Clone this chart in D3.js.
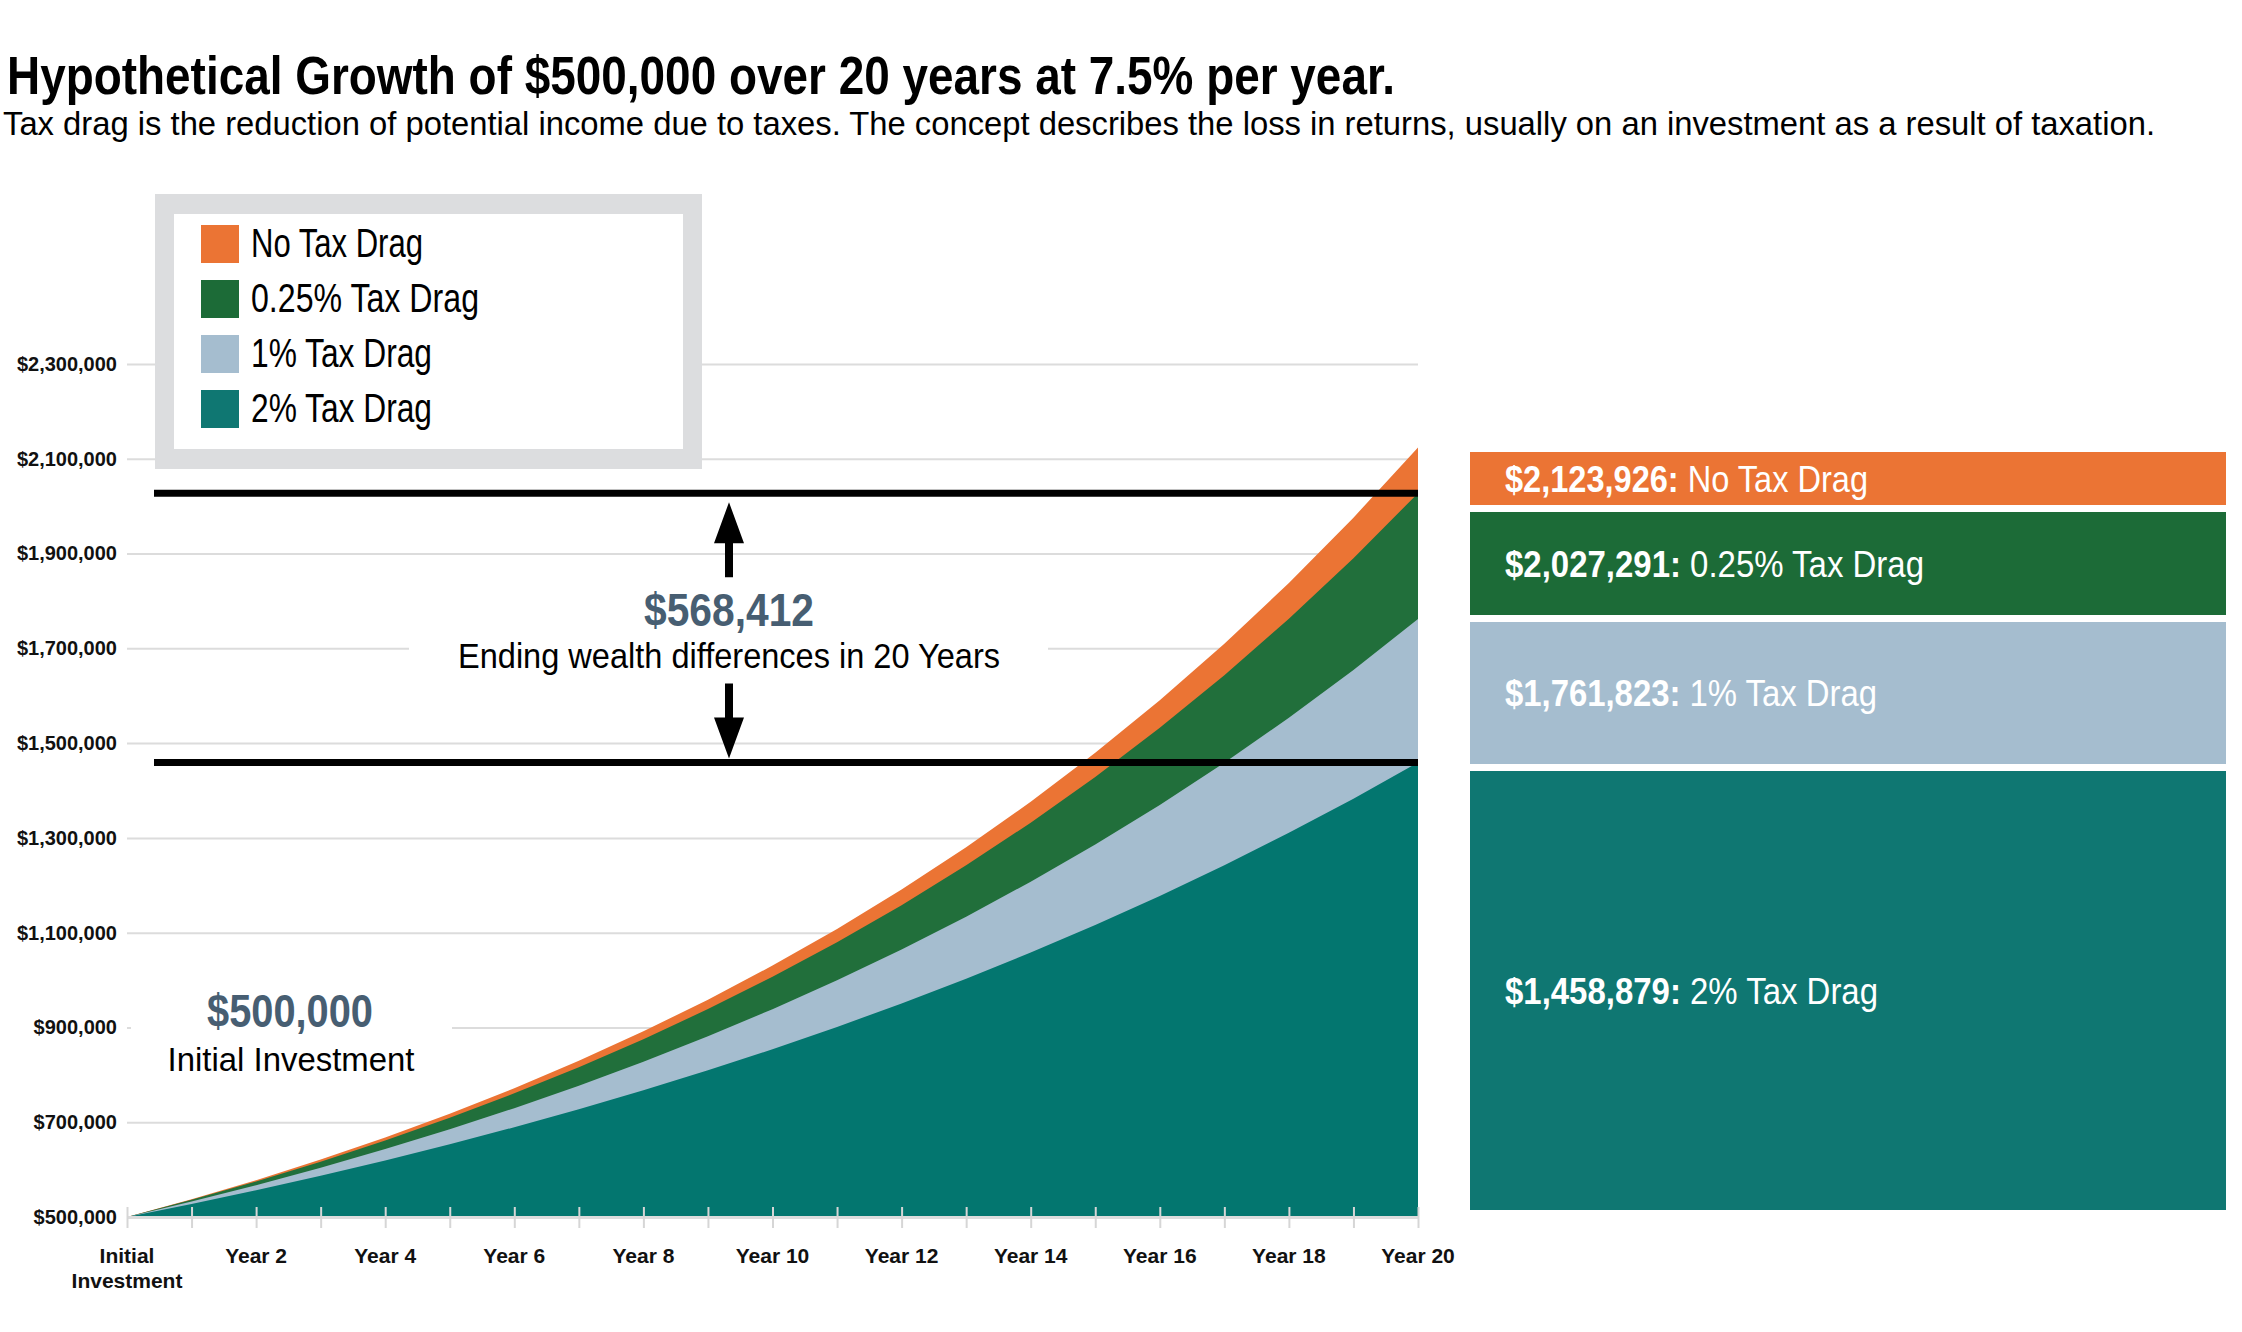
<!DOCTYPE html>
<html>
<head>
<meta charset="utf-8">
<script src="https://cdn.jsdelivr.net/npm/d3@7"></script>
<style>
  body { margin: 0; background: #fff; }
  svg text { font-family: 'Liberation Sans Narrow', 'Arial Narrow', 'Liberation Sans', Arial, sans-serif; }
</style>
</head>
<body>
<div id="chart"></div>
<script>

// ---- data ----
var years = [0, 1, 2, 3, 4, 5, 6, 7, 8, 9, 10, 11, 12, 13, 14, 15, 16, 17, 18, 19, 20];

var noTaxDrag = [500000, 537500, 577813, 621148, 667735, 717815, 771651, 829525, 891739, 958619,
    1030516, 1107804, 1190890, 1280207, 1376222, 1479439, 1590397, 1709676, 1837902, 1975745, 2123926];
var drag025 = [500000, 536250, 575128, 616825, 661545, 709507, 760946, 816115, 875283, 938741,
    1006800, 1079793, 1158077, 1242038, 1332086, 1428662, 1532240, 1643328, 1762469, 1890248, 2027291];
var drag1 = [500000, 532500, 567113, 603975, 643233, 685043, 729571, 776993, 827498, 881285,
    938569, 999576, 1064548, 1133744, 1207437, 1285921, 1369505, 1458523, 1553327, 1654293, 1761823];
var drag2 = [500000, 527500, 556513, 587121, 619412, 653480, 689421, 727340, 767343, 809547,
    854072, 901046, 950604, 1002887, 1058046, 1116238, 1177631, 1242401, 1310733, 1382823, 1458879];

var seriesNames = ['No Tax Drag', '0.25% Tax Drag', '1% Tax Drag', '2% Tax Drag'];
var seriesValues = [noTaxDrag, drag025, drag1, drag2];

var yTicks = [500000, 700000, 900000, 1100000, 1300000, 1500000, 1700000, 1900000, 2100000, 2300000];
var xLabelYears = [0, 2, 4, 6, 8, 10, 12, 14, 16, 18, 20];
var xLabels = ['Initial|Investment', 'Year 2', 'Year 4', 'Year 6', 'Year 8', 'Year 10',
    'Year 12', 'Year 14', 'Year 16', 'Year 18', 'Year 20'];

var initialAmount = 500000;

// ---- styles / layout ----
var areaColors = ['#eb7434', '#216f3b', '#a5bdcf', '#03766f'];
var boxColors = ['#eb7434', '#1c6b37', '#a5bdcf', '#0f7772'];
var slate = '#475e72';

var width = 2242, height = 1332;
var plotLeft = 127, plotRight = 1418, plotBottom = 1217, plotTop = 364;

var svg = d3.select('#chart')
    .append('svg')
        .attr('width', width)
        .attr('height', height);

var x = d3.scaleLinear().domain([0, 20]).range([plotLeft, plotRight]);
var y = d3.scaleLinear().domain([500000, 2300000]).range([plotBottom, plotTop]);

function fit(sel, w) {
    sel.attr('textLength', w).attr('lengthAdjust', 'spacingAndGlyphs');
    return sel;
}

// title
svg.append('text')
    .attr('x', 7).attr('y', 94)
    .attr('font-size', 54).attr('font-weight', 'bold').attr('fill', '#000')
    .text('Hypothetical Growth of $500,000 over 20 years at 7.5% per year.')
    .call(fit, 1388);

svg.append('text')
    .attr('x', 3).attr('y', 135)
    .attr('font-size', 33).attr('fill', '#000')
    .text('Tax drag is the reduction of potential income due to taxes. The concept describes the loss in returns, usually on an investment as a result of taxation.')
    .call(fit, 2152);

// y axis + gridlines
svg.append('g')
    .attr('transform', 'translate(' + plotLeft + ',0)')
    .call(d3.axisLeft(y)
        .tickValues(yTicks)
        .tickSize(-(plotRight - plotLeft))
        .tickPadding(10)
        .tickFormat(function(d) { return '$' + d3.format(',')(d); }))
    .call(function(g) { g.select('.domain').remove(); })
    .call(function(g) {
        g.selectAll('.tick line').attr('stroke', '#dcdcdc').attr('stroke-width', 2);
        g.selectAll('.tick text')
            .style('font-family', "'Liberation Sans', Arial, sans-serif")
            .attr('font-size', 20).attr('font-weight', 'bold').attr('fill', '#111');
    });

// white patches behind annotations (gridline gaps)
svg.append('rect').attr('x', 409).attr('y', 590).attr('width', 639).attr('height', 95).attr('fill', '#fff');
svg.append('rect').attr('x', 131).attr('y', 985).attr('width', 321).attr('height', 95).attr('fill', '#fff');

// areas
var area = d3.area()
    .x(function(d, i) { return x(years[i]); })
    .y0(y(initialAmount))
    .y1(function(d) { return y(d); });

svg.selectAll('path.area')
    .data(seriesValues)
    .enter().append('path')
        .attr('class', 'area')
        .attr('fill', function(d, i) { return areaColors[i]; })
        .attr('d', area);

// x axis
var xAxis = svg.append('g')
    .attr('transform', 'translate(0,' + plotBottom + ')')
    .call(d3.axisBottom(x).tickValues(years).tickSize(11).tickSizeOuter(0).tickFormat(''));
xAxis.select('.domain').attr('stroke', '#dcdcdc').attr('stroke-width', 3);
xAxis.selectAll('.tick line').attr('stroke', '#d6d6d6').attr('stroke-width', 2).attr('y1', -10);

svg.selectAll('text.xlab')
    .data(xLabelYears)
    .enter().append('text')
        .attr('class', 'xlab')
        .attr('x', function(d) { return x(d); })
        .attr('y', 1263)
        .attr('text-anchor', 'middle')
        .attr('font-size', 21).attr('font-weight', 'bold').attr('fill', '#111')
        .each(function(d, i) {
            var parts = xLabels[i].split('|');
            var t = d3.select(this);
            parts.forEach(function(p, j) {
                t.append('tspan').attr('x', x(d)).attr('dy', j === 0 ? 0 : 25).text(p);
            });
        });

// difference lines
var topVal = drag025[drag025.length - 1];
var lowVal = drag2[drag2.length - 1];
[topVal, lowVal].forEach(function(v) {
    svg.append('line')
        .attr('x1', 154).attr('x2', plotRight)
        .attr('y1', y(v)).attr('y2', y(v))
        .attr('stroke', '#000').attr('stroke-width', 7);
});

// arrows
var ax = 729;
var yt = y(topVal), yb = y(lowVal);
svg.append('path')
    .attr('fill', '#000')
    .attr('d', 'M' + ax + ',' + (yt + 9) + ' L' + (ax + 15) + ',' + (yt + 50) + ' L' + (ax + 4) + ',' + (yt + 50) +
        ' L' + (ax + 4) + ',' + (yt + 84) + ' L' + (ax - 4) + ',' + (yt + 84) + ' L' + (ax - 4) + ',' + (yt + 50) +
        ' L' + (ax - 15) + ',' + (yt + 50) + ' Z');
svg.append('path')
    .attr('fill', '#000')
    .attr('d', 'M' + ax + ',' + (yb - 4) + ' L' + (ax + 15) + ',' + (yb - 45) + ' L' + (ax + 4) + ',' + (yb - 45) +
        ' L' + (ax + 4) + ',' + (yb - 79) + ' L' + (ax - 4) + ',' + (yb - 79) + ' L' + (ax - 4) + ',' + (yb - 45) +
        ' L' + (ax - 15) + ',' + (yb - 45) + ' Z');

svg.append('text')
    .attr('x', ax).attr('y', 626).attr('text-anchor', 'middle')
    .attr('font-size', 46).attr('font-weight', 'bold').attr('fill', slate)
    .text(d3.format('$,')(topVal - lowVal))
    .call(fit, 170);
svg.append('text')
    .attr('x', ax).attr('y', 668).attr('text-anchor', 'middle')
    .attr('font-size', 35).attr('fill', '#000')
    .text('Ending wealth differences in 20 Years')
    .call(fit, 542);

svg.append('text')
    .attr('x', 290).attr('y', 1027).attr('text-anchor', 'middle')
    .attr('font-size', 46).attr('font-weight', 'bold').attr('fill', slate)
    .text(d3.format('$,')(initialAmount))
    .call(fit, 166);
svg.append('text')
    .attr('x', 291).attr('y', 1071).attr('text-anchor', 'middle')
    .attr('font-size', 34).attr('fill', '#000')
    .text('Initial Investment')
    .call(fit, 247);

// legend
svg.append('rect').attr('x', 155).attr('y', 194).attr('width', 547).attr('height', 275).attr('fill', '#dcdddf');
svg.append('rect').attr('x', 174).attr('y', 214).attr('width', 509).attr('height', 235).attr('fill', '#fff');

var legendW = [172, 228, 181, 181];
var legend = svg.selectAll('g.leg')
    .data(seriesNames)
    .enter().append('g')
        .attr('class', 'leg')
        .attr('transform', function(d, i) { return 'translate(201,' + (225 + i * 55) + ')'; });
legend.append('rect')
    .attr('width', 38).attr('height', 38)
    .attr('fill', function(d, i) { return boxColors[i]; });
legend.append('text')
    .attr('x', 50).attr('y', 32)
    .attr('font-size', 40).attr('fill', '#000')
    .text(function(d) { return d; })
    .each(function(d, i) { fit(d3.select(this), legendW[i]); });

// ending value boxes
var boxTops = [452, 512, 622, 771];
var boxBottoms = [505, 615, 764, 1210];
var boxTextW = [363, 419, 372, 373];
seriesNames.forEach(function(name, i) {
    var vals = seriesValues[i];
    svg.append('rect')
        .attr('x', 1470).attr('y', boxTops[i])
        .attr('width', 756).attr('height', boxBottoms[i] - boxTops[i])
        .attr('fill', boxColors[i]);
    var t = svg.append('text')
        .attr('x', 1505).attr('y', (boxTops[i] + boxBottoms[i]) / 2 + 13)
        .attr('font-size', 36).attr('fill', '#fff');
    t.append('tspan').attr('font-weight', 'bold').text(d3.format('$,')(vals[vals.length - 1]) + ':');
    t.append('tspan').text(' ' + name);
    fit(t, boxTextW[i]);
});

</script>
</body>
</html>
